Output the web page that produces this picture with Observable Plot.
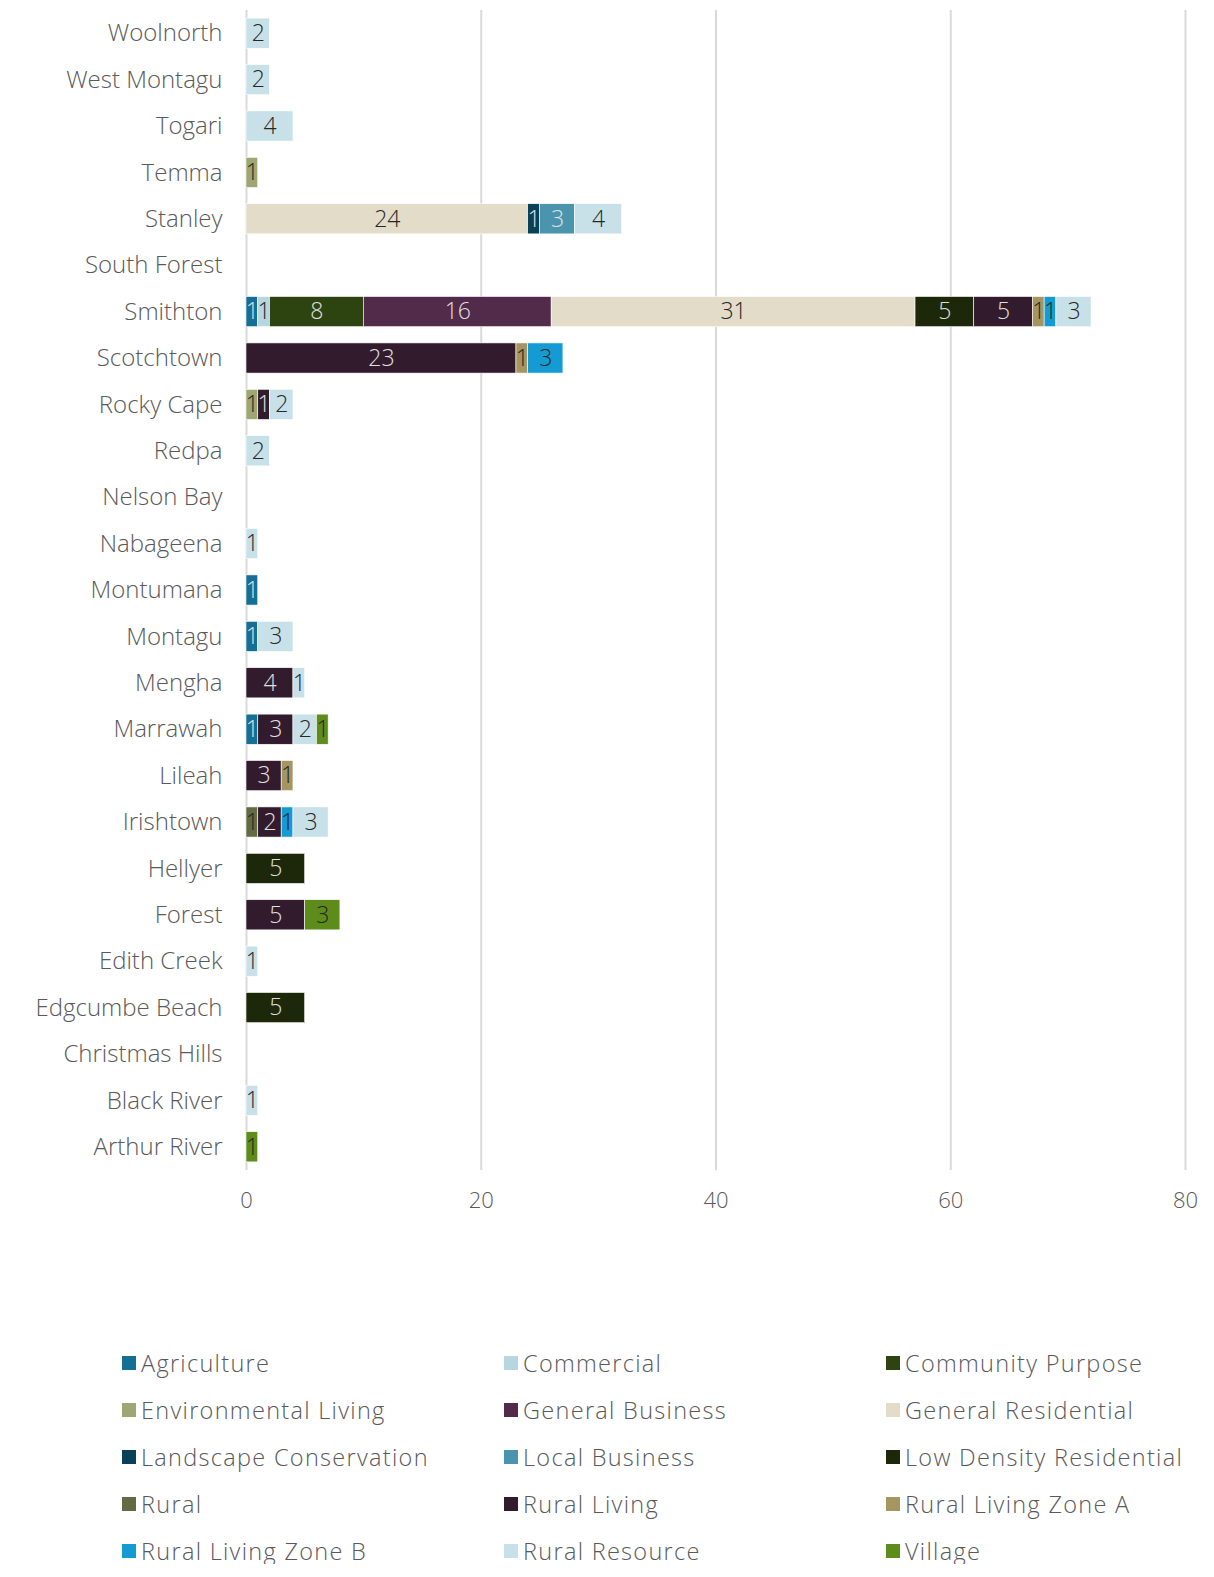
<!DOCTYPE html>
<html>
<head>
<meta charset="utf-8">
<script src="https://cdn.jsdelivr.net/npm/d3@7"></script>
<script src="https://cdn.jsdelivr.net/npm/@observablehq/plot@0.6"></script>
<style>
  body { margin: 0; background: #fff; font-family: "Open Sans", Lato, sans-serif; font-weight: 300; }
  #chart svg { display: block; }
  #legend { display: grid; grid-template-columns: 382px 382px 330px; margin: 118px 0 0 122px; row-gap: 21px; }
  .item { display: flex; align-items: center; font-size: 23.5px; letter-spacing: 1.3px; color: #595959; height: 26px; white-space: nowrap; }
  .sw { width: 14px; height: 14px; margin-right: 5px; flex: none; }
</style>
</head>
<body>
<div id="chart"></div>
<div id="legend"></div>
<script>
// Towns, top to bottom
const towns = ["Woolnorth","West Montagu","Togari","Temma","Stanley","South Forest","Smithton","Scotchtown","Rocky Cape","Redpa","Nelson Bay","Nabageena","Montumana","Montagu","Mengha","Marrawah","Lileah","Irishtown","Hellyer","Forest","Edith Creek","Edgcumbe Beach","Christmas Hills","Black River","Arthur River"];

// Zones in stacking / legend order
const zones = ["Agriculture","Commercial","Community Purpose","Environmental Living","General Business","General Residential","Landscape Conservation","Local Business","Low Density Residential","Rural","Rural Living","Rural Living Zone A","Rural Living Zone B","Rural Resource","Village"];

const zoneColors = ["#156e93","#b8d6df","#2d4410","#9ea673","#522a4a","#e2dcc8","#0a4159","#4a95ad","#1c2809","#636b43","#321b2d","#a59561","#159bd3","#c8e1e8","#5e8c1a"];

// Zones whose value labels are drawn in light text
const lightLabelZones = ["Agriculture","Community Purpose","General Business","Landscape Conservation","Local Business","Low Density Residential","Rural Living"];

// [town, zone, count]
const counts = [
  ["Woolnorth","Rural Resource",2],
  ["West Montagu","Rural Resource",2],
  ["Togari","Rural Resource",4],
  ["Temma","Environmental Living",1],
  ["Stanley","General Residential",24],
  ["Stanley","Landscape Conservation",1],
  ["Stanley","Local Business",3],
  ["Stanley","Rural Resource",4],
  ["Smithton","Agriculture",1],
  ["Smithton","Commercial",1],
  ["Smithton","Community Purpose",8],
  ["Smithton","General Business",16],
  ["Smithton","General Residential",31],
  ["Smithton","Low Density Residential",5],
  ["Smithton","Rural Living",5],
  ["Smithton","Rural Living Zone A",1],
  ["Smithton","Rural Living Zone B",1],
  ["Smithton","Rural Resource",3],
  ["Scotchtown","Rural Living",23],
  ["Scotchtown","Rural Living Zone A",1],
  ["Scotchtown","Rural Living Zone B",3],
  ["Rocky Cape","Environmental Living",1],
  ["Rocky Cape","Rural Living",1],
  ["Rocky Cape","Rural Resource",2],
  ["Redpa","Rural Resource",2],
  ["Nabageena","Rural Resource",1],
  ["Montumana","Agriculture",1],
  ["Montagu","Agriculture",1],
  ["Montagu","Rural Resource",3],
  ["Mengha","Rural Living",4],
  ["Mengha","Rural Resource",1],
  ["Marrawah","Agriculture",1],
  ["Marrawah","Rural Living",3],
  ["Marrawah","Rural Resource",2],
  ["Marrawah","Village",1],
  ["Lileah","Rural Living",3],
  ["Lileah","Rural Living Zone A",1],
  ["Irishtown","Rural",1],
  ["Irishtown","Rural Living",2],
  ["Irishtown","Rural Living Zone B",1],
  ["Irishtown","Rural Resource",3],
  ["Hellyer","Low Density Residential",5],
  ["Forest","Rural Living",5],
  ["Forest","Village",3],
  ["Edith Creek","Rural Resource",1],
  ["Edgcumbe Beach","Low Density Residential",5],
  ["Black River","Rural Resource",1],
  ["Arthur River","Village",1]
];

const xTicks = [0, 20, 40, 60, 80];

const data = counts.map(([town, zone, value]) => ({town, zone, value}));
const stackOpts = {y: "town", x: "value", z: "zone", order: zones};
const isLight = d => lightLabelZones.includes(d.zone);

const chart = Plot.plot({
  width: 1214,
  height: 1232,
  marginLeft: 246,
  marginRight: 29,
  marginTop: 10,
  marginBottom: 62,
  style: {fontFamily: '"Open Sans", Lato, sans-serif', fontWeight: 300, color: "#595959", background: "#fff"},
  x: {domain: [0, 80], ticks: xTicks, label: null},
  y: {domain: towns, padding: 0.35, paddingOuter: 0.175, round: false, label: null},
  color: {domain: zones, range: zoneColors},
  marks: [
    Plot.ruleX(xTicks, {stroke: "#d9d9d9", strokeWidth: 2}),
    Plot.barX(data, Plot.stackX({...stackOpts, fill: "zone", stroke: "white", strokeWidth: 0.6})),
    Plot.text(data, Plot.stackX({...stackOpts, text: d => isLight(d) ? String(d.value) : null, fill: "#e0e0e0", fontSize: 23, fontWeight: 300})),
    Plot.text(data, Plot.stackX({...stackOpts, text: d => isLight(d) ? null : String(d.value), fill: "#262626", fontSize: 23, fontWeight: 300})),
    Plot.axisY({tickSize: 0, tickPadding: 24, fontSize: 24, letterSpacing: "1.8px", fill: "#595959", label: null}),
    Plot.axisX({ticks: xTicks, tickSize: 0, tickPadding: 22, fontSize: 22, letterSpacing: "1px", fill: "#595959", label: null})
  ]
});
document.getElementById("chart").appendChild(chart);

const legend = document.getElementById("legend");
zones.forEach((z, i) => {
  const item = document.createElement("div");
  item.className = "item";
  const sw = document.createElement("span");
  sw.className = "sw";
  sw.style.background = zoneColors[i];
  item.appendChild(sw);
  item.appendChild(document.createTextNode(z));
  legend.appendChild(item);
});
</script>
</body>
</html>
